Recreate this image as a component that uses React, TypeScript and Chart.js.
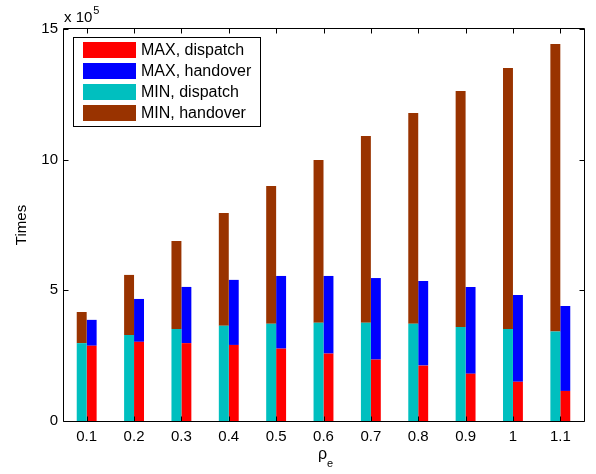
import React, { useEffect, useRef } from 'react';
import { Chart, registerables } from 'chart.js';

Chart.register(...registerables);

// Categories (rho_e)
const categories = ['0.1', '0.2', '0.3', '0.4', '0.5', '0.6', '0.7', '0.8', '0.9', '1', '1.1'];

// Series values (Times)
const maxDispatch = [2.88e5, 3.03e5, 2.98e5, 2.91e5, 2.77e5, 2.58e5, 2.35e5, 2.12e5, 1.81e5, 1.5e5, 1.15e5];
const maxHandover = [0.99e5, 1.64e5, 2.15e5, 2.49e5, 2.78e5, 2.97e5, 3.12e5, 3.24e5, 3.32e5, 3.32e5, 3.25e5];
const minDispatch = [2.98e5, 3.29e5, 3.52e5, 3.64e5, 3.72e5, 3.76e5, 3.76e5, 3.72e5, 3.6e5, 3.52e5, 3.42e5];
const minHandover = [1.19e5, 2.3e5, 3.37e5, 4.32e5, 5.27e5, 6.23e5, 7.15e5, 8.07e5, 9.03e5, 9.99e5, 11.01e5];

// Tick values for the y axis
const yTicks = [0, 5e5, 10e5, 15e5];
const yExponentText = 'x 10';
const yExponent = '5';

const seriesLabels = ['MAX, dispatch', 'MAX, handover', 'MIN, dispatch', 'MIN, handover'];
const seriesColors = ['#ff0000', '#0000ff', '#00bfbf', '#993300'];

const FONT = '"Liberation Sans", Arial, Helvetica, sans-serif';

const framePlugin = {
  id: 'matlabFrame',
  afterDraw(chart: any) {
    const { ctx, chartArea: a, scales } = chart;
    const L = Math.round(a.left) + 0.5;
    const R = Math.round(a.right) + 0.5;
    const T = Math.round(a.top) - 0.5;
    const B = Math.round(a.bottom) + 0.5;
    ctx.save();
    ctx.strokeStyle = '#000';
    ctx.lineWidth = 1;
    ctx.beginPath();
    ctx.rect(L, T, R - L, B - T);
    ctx.stroke();
    // inward ticks
    ctx.beginPath();
    categories.forEach((_, i) => {
      const x = Math.round(scales.x.getPixelForValue(i)) + 0.5;
      ctx.moveTo(x, B);
      ctx.lineTo(x, B - 5);
      ctx.moveTo(x, T);
      ctx.lineTo(x, T + 5);
    });
    yTicks.forEach((v) => {
      const y = Math.round(scales.y.getPixelForValue(v)) + 0.5;
      ctx.moveTo(L, y);
      ctx.lineTo(L + 5, y);
      ctx.moveTo(R, y);
      ctx.lineTo(R - 5, y);
    });
    ctx.stroke();

    // exponent label
    ctx.fillStyle = '#000';
    ctx.textBaseline = 'alphabetic';
    ctx.textAlign = 'left';
    ctx.font = `15px ${FONT}`;
    ctx.fillText(yExponentText, 64, 22);
    const w = ctx.measureText(yExponentText).width;
    ctx.font = `11px ${FONT}`;
    ctx.fillText(yExponent, 64 + w + 1, 14);

    // y title
    ctx.save();
    ctx.translate(22, (a.top + a.bottom) / 2);
    ctx.rotate(-Math.PI / 2);
    ctx.font = `15px ${FONT}`;
    ctx.textAlign = 'center';
    ctx.textBaseline = 'middle';
    ctx.fillText('Times', 0, 0);
    ctx.restore();

    // x title rho_e
    ctx.font = `16px ${FONT}`;
    const rw = ctx.measureText('ρ').width;
    ctx.font = `11px ${FONT}`;
    const ew = ctx.measureText('e').width;
    const cx = (a.left + a.right) / 2 + 2;
    const sx = cx - (rw + ew) / 2;
    ctx.font = `16px ${FONT}`;
    ctx.fillText('ρ', sx, 459);
    ctx.font = `11px ${FONT}`;
    ctx.fillText('e', sx + rw, 467);

    // legend
    const lx = 73, ly = 38, lw = 187, lh = 89;
    ctx.fillStyle = '#fff';
    ctx.fillRect(lx, ly, lw, lh);
    ctx.strokeStyle = '#000';
    ctx.strokeRect(lx + 0.5, ly - 0.5, lw, lh);
    chart.data.datasets.forEach((ds: any, i: number) => {
      const top = 42 + i * 21;
      ctx.fillStyle = ds.backgroundColor;
      ctx.fillRect(83, top, 53, 16);
      ctx.fillStyle = '#000';
      ctx.font = `16px ${FONT}`;
      ctx.textBaseline = 'middle';
      ctx.textAlign = 'left';
      ctx.fillText(ds.label, 141, top + 8.5);
    });
    ctx.restore();
  },
};

export default function App() {
  const canvasRef = useRef<HTMLCanvasElement | null>(null);

  useEffect(() => {
    const canvas = canvasRef.current;
    if (!canvas) return;
    const seriesData = [maxDispatch, maxHandover, minDispatch, minHandover];
    const stacks = ['max', 'max', 'min', 'min'];
    const orders = [1, 1, 0, 0];
    const chart = new Chart(canvas, {
      type: 'bar',
      data: {
        labels: categories,
        datasets: seriesLabels.map((label, i) => ({
          label,
          data: seriesData[i],
          backgroundColor: seriesColors[i],
          borderWidth: 0,
          stack: stacks[i],
          order: orders[i],
          categoryPercentage: 0.42,
          barPercentage: 1.0,
        })),
      },
      options: {
        animation: false,
        responsive: false,
        devicePixelRatio: 1,
        layout: { padding: { top: 29, right: 12, left: 0, bottom: 0 } },
        plugins: {
          legend: { display: false },
          tooltip: { enabled: false },
          title: { display: false },
        },
        scales: {
          x: {
            type: 'category',
            stacked: true,
            offset: true,
            grid: { display: false, drawTicks: false },
            border: { display: false },
            ticks: {
              color: '#000',
              font: { family: FONT, size: 15 },
              padding: 7,
              maxRotation: 0,
              autoSkip: false,
            },
            afterFit: (s: any) => {
              s.height = 53;
            },
          },
          y: {
            type: 'linear',
            stacked: true,
            min: 0,
            max: 15e5,
            grid: { display: false, drawTicks: false },
            border: { display: false },
            afterBuildTicks: (s: any) => {
              s.ticks = yTicks.map((v) => ({ value: v }));
            },
            ticks: {
              color: '#000',
              font: { family: FONT, size: 15 },
              padding: 5,
              callback: (v: any) => String(Number(v) / 1e5),
            },
            afterFit: (s: any) => {
              s.width = 63;
            },
          },
        },
      },
      plugins: [framePlugin],
    });
    return () => chart.destroy();
  }, []);

  return (
    <div style={{ position: 'absolute', left: 0, top: 0, width: 596, height: 474, background: '#fff' }}>
      <canvas ref={canvasRef} width={596} height={474} style={{ width: 596, height: 474 }} />
    </div>
  );
}
